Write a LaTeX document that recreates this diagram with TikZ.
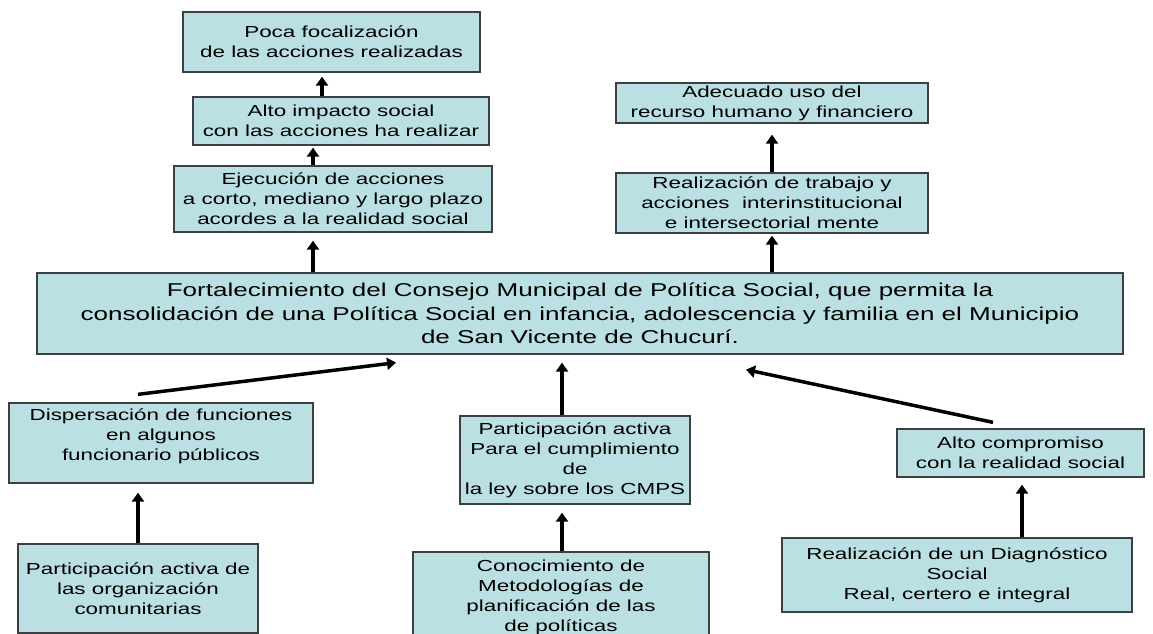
\documentclass[tikz,border=0pt]{standalone}
\usepackage{fontspec}
\setmainfont{Liberation Sans}[FakeStretch=1.4]
\usetikzlibrary{arrows.meta}
\definecolor{boxfill}{RGB}{187,224,227}
\definecolor{boxline}{RGB}{60,64,66}
\tikzset{
  box/.style={draw=boxline, line width=1.3pt, fill=boxfill, inner sep=0pt, align=center,
    font=\fontsize{16}{20}\selectfont},
  mainbox/.style={box, font=\fontsize{18.6}{23.5}\selectfont},
  arr/.style={line width=3.5pt, -{Triangle[width=12pt,length=9pt]}},
  ln/.style={line width=3.5pt}
}
\begin{document}
\begin{tikzpicture}[x=1pt,y=-1pt]
\useasboundingbox[fill=white] (0,0) rectangle (1153,634);
% top left chain
\node[box, minimum width=297pt, minimum height=60pt] (B1) at (331.5,42) {Poca focalización\\de las acciones realizadas};
\node[box, minimum width=296pt, minimum height=48pt] (B2) at (341,121) {Alto impacto social\\con las acciones ha realizar};
\node[box, minimum width=318pt, minimum height=66pt] (B3) at (333,199) {Ejecución de acciones\\a corto, mediano y largo plazo\\acordes a la realidad social};
% top right chain
\node[box, minimum width=312pt, minimum height=40pt] (B4) at (772,103) {Adecuado uso del\\recurso humano y financiero};
\node[box, minimum width=312pt, minimum height=60pt] (B5) at (772,203) {Realización de trabajo y\\acciones\ \ interinstitucional\\e intersectorial mente};
% main
\node[mainbox, minimum width=1086pt, minimum height=81pt] (main) at (580,313.5) {Fortalecimiento del Consejo Municipal de Política Social, que permita la\\consolidación de una Política Social en infancia, adolescencia y familia en el Municipio\\de San Vicente de Chucurí.};
% bottom
\node[box, minimum width=304pt, minimum height=80pt, text depth=16pt] (D) at (161,443) {Dispersación de funciones\\en algunos\\funcionario públicos};
\node[box, minimum width=240pt, minimum height=89pt] (P) at (138,588.5) {Participación activa de\\las organización\\comunitarias};
\node[box, minimum width=230pt, minimum height=88pt] (M) at (575,460) {Participación activa\\Para el cumplimiento\\de\\la ley sobre los CMPS};
\node[box, minimum width=296pt, minimum height=90pt] (C) at (561,597) {Conocimiento de\\Metodologías de\\planificación de las\\de políticas};
\node[box, minimum width=247pt, minimum height=48pt] (A) at (1020.5,453) {Alto compromiso\\con la realidad social};
\node[box, minimum width=350pt, minimum height=74pt] (R) at (957,575) {Realización de un Diagnóstico\\Social\\Real, certero e integral};
% arrows top
\draw[arr] ([xshift=-19pt]B2.north) -- ([xshift=-9.5pt,yshift=-4pt]B1.south);
\draw[arr] ([xshift=-20pt]B3.north) -- ([xshift=-28pt,yshift=-2pt]B2.south);
\draw[arr] ([xshift=-20pt]B3.south |- main.north) -- ([xshift=-20pt,yshift=-8pt]B3.south);
\draw[arr] (B5.south |- main.north) -- ([yshift=-2pt]B5.south);
\draw[arr] (B5.north) -- ([yshift=-11pt]B4.south);
% arrows bottom
\draw[arr] ([xshift=-23pt,yshift=8pt]D.north) -- ([xshift=-184pt,yshift=-8pt]main.south);
\draw[arr] ([xshift=-13pt]M.north) -- ([xshift=-18pt,yshift=-8pt]main.south);
\draw[arr] ([xshift=-27.5pt,yshift=6pt]A.north) -- ([xshift=166pt,yshift=-15pt]main.south);
\draw[arr] (P.north) -- ([xshift=-23pt,yshift=-9pt]D.south);
\draw[arr] ([xshift=1pt]C.north) -- ([xshift=-13pt,yshift=-8pt]M.south);
\draw[arr] ([xshift=65pt]R.north) -- ([xshift=1.5pt,yshift=-7pt]A.south);
\end{tikzpicture}
\end{document}
